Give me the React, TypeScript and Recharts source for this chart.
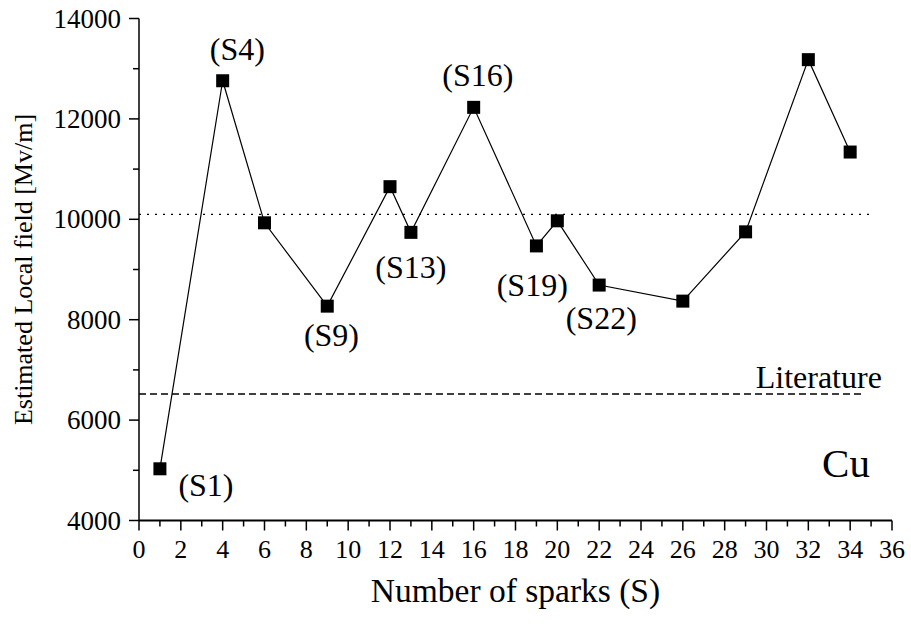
import React from "react";
import {
  ComposedChart, Line, Scatter, XAxis, YAxis, ReferenceLine, Label,
} from "recharts";

// spark number vs estimated local field (Cu)
const sparks = [1, 4, 6, 9, 12, 13, 16, 19, 20, 22, 26, 29, 32, 34];
const fields = [5030, 12760, 9930, 8270, 10650, 9740, 12230, 9470, 9970, 8690, 8370, 9750, 13180, 11340];

const xTicks = [0, 1, 2, 3, 4, 5, 6, 7, 8, 9, 10, 11, 12, 13, 14, 15, 16, 17, 18, 19, 20, 21, 22, 23, 24, 25, 26, 27, 28, 29, 30, 31, 32, 33, 34, 35, 36];
const yTicks = [4000, 5000, 6000, 7000, 8000, 9000, 10000, 11000, 12000, 13000, 14000];

const meanField = 10100;
const literatureField = 6520;

// where each spark tag sits, in data units
const sparkTags = [
  { x: 3.2, y: 4710, text: "(S1)" },
  { x: 4.7, y: 13400, text: "(S4)" },
  { x: 9.2, y: 7700, text: "(S9)" },
  { x: 13.0, y: 9050, text: "(S13)" },
  { x: 16.2, y: 12870, text: "(S16)" },
  { x: 18.8, y: 8690, text: "(S19)" },
  { x: 22.1, y: 8030, text: "(S22)" },
];
const literatureTag = [{ x: 32.5, y: 6860, text: "Literature" }];
const elementTag = [{ x: 33.8, y: 5150, text: "Cu" }];

const FONT = "'Liberation Serif', 'Times New Roman', serif";

const points = sparks.map((s, i) => ({ x: s, y: fields[i] }));

const tagShape = (size: number) => (p: any) => (
  <text x={p.cx} y={p.cy} textAnchor="middle" dominantBaseline="central"
    fontFamily={FONT} fontSize={size} fill="#000">{p.payload.text}</text>
);

const YTick = (p: any) => {
  const major = p.payload.value % 2000 === 0;
  const len = major ? 10 : 6;
  return (
    <g>
      <line x1={p.x - len} x2={p.x} y1={p.y} y2={p.y} stroke="#000" strokeWidth={1.5} />
      {major && (
        <text x={p.x - len - 8} y={p.y} textAnchor="end" dominantBaseline="central"
          fontFamily={FONT} fontSize={27} fill="#000">{p.payload.value}</text>
      )}
    </g>
  );
};

const XTick = (p: any) => {
  const major = p.payload.value % 2 === 0;
  const len = major ? 10 : 6;
  return (
    <g>
      <line x1={p.x} x2={p.x} y1={p.y} y2={p.y + len} stroke="#000" strokeWidth={1.5} />
      {major && (
        <text x={p.x} y={p.y + 29} textAnchor="middle" dominantBaseline="central"
          fontFamily={FONT} fontSize={26} fill="#000">{p.payload.value}</text>
      )}
    </g>
  );
};

const SquareDot = (p: any) => (
  <rect key={p.index} x={p.cx - 6.5} y={p.cy - 6.5} width={13} height={13} fill="#000" />
);

export default function App() {
  return (
    <div style={{ position: "absolute", left: 0, top: 0, background: "#fff" }}>
      <ComposedChart width={911} height={624} margin={{ top: 18.5, right: 19, bottom: 0.5, left: 0 }}>
        <XAxis
          type="number" dataKey="x" domain={[0, 36]} ticks={xTicks} interval={0}
          height={103} tickSize={0} tickMargin={0} tickLine={false} tick={<XTick />}
          axisLine={{ stroke: "#000", strokeWidth: 2 }}
        >
          <Label value="Number of sparks (S)" position="center" dy={18}
            style={{ fontFamily: FONT, fontSize: 33.5, fill: "#000" }} />
        </XAxis>
        <YAxis
          type="number" dataKey="y" domain={[4000, 14000]} ticks={yTicks} interval={0}
          width={139} tickSize={0} tickMargin={0} tickLine={false} tick={<YTick />}
          axisLine={{ stroke: "#000", strokeWidth: 1.5 }}
        >
          <Label value="Estimated Local field [Mv/m]" position="center" angle={-90} dx={-47}
            style={{ fontFamily: FONT, fontSize: 26, fill: "#000" }} />
        </YAxis>
        <ReferenceLine segment={[{ x: 0, y: meanField }, { x: 35, y: meanField }]}
          stroke="#000" strokeWidth={1.3} strokeDasharray="2 6" />
        <ReferenceLine segment={[{ x: 0, y: literatureField }, { x: 34.6, y: literatureField }]}
          stroke="#000" strokeWidth={1.3} strokeDasharray="7 4" />
        <Line data={points} dataKey="y" stroke="#000" strokeWidth={1.2}
          dot={SquareDot} activeDot={false} isAnimationActive={false} />
        <Scatter data={sparkTags} dataKey="y" shape={tagShape(32)} isAnimationActive={false} />
        <Scatter data={literatureTag} dataKey="y" shape={tagShape(32)} isAnimationActive={false} />
        <Scatter data={elementTag} dataKey="y" shape={tagShape(41)} isAnimationActive={false} />
      </ComposedChart>
    </div>
  );
}
